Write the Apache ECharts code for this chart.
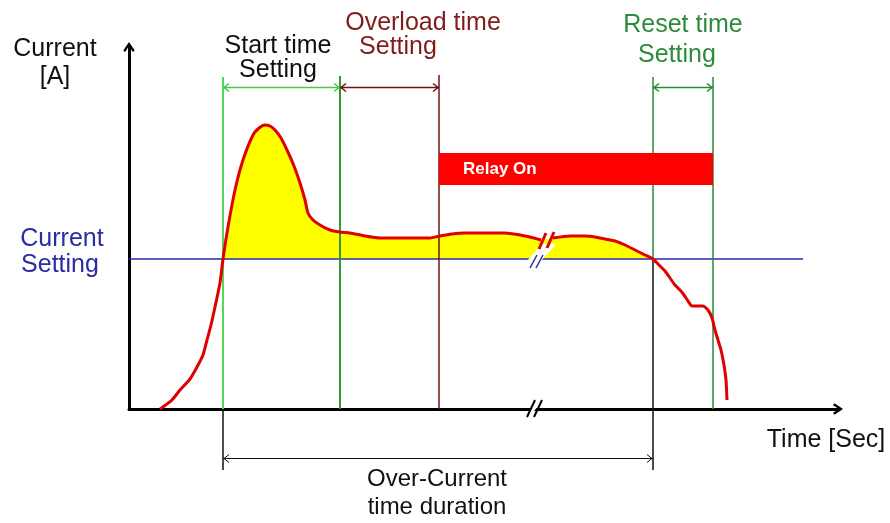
<!DOCTYPE html>
<html><head><meta charset="utf-8">
<script src="https://cdn.jsdelivr.net/npm/echarts@6/dist/echarts.min.js"></script>
<style>html,body{margin:0;padding:0;background:#fff}#c{width:890px;height:523px}</style>
</head><body><div id="c"></div>
<script>
// ---- data (x: time units, y: current units) ----
const currentSetting = 150;
const tStart = 94, tStartEnd = 211, tOverloadEnd = 310, tDrop = 524, tResetEnd = 584;
const settingEnd = 674;
const curveBefore = [[31,0],[34,2],[43,9],[51,19],[61,30],[68,42],[74,54],[78,69],[82,84],[86,102],[91,126],[94,150],[99,182],[106,219],[114,249],[124,274],[130,281],[136,284],[141,283],[146,279],[152,271],[158,259],[165,243],[171,226],[176,209],[179,196],[184,189],[191,184],[201,179],[211,177],[221,176],[236,173],[251,171],[271,171],[301,171],[311,173],[323,175],[336,176],[356,176],[376,176],[391,174],[401,172],[412,169]];
const curveAfter = [[424,171],[441,173],[456,173],[466,172],[476,170],[486,168],[496,164],[506,159],[516,154],[524,150],[531,143],[536,138],[541,131],[546,124],[551,119],[555,114],[559,108],[563,103],[569,103],[574,103],[579,99],[583,91],[586,79],[589,69],[592,59],[595,44],[597,29],[598,9]];
const relayOn = [[tOverloadEnd, tResetEnd, 224, 256]];
const xMax = 709, yMax = 362;

// ---- helpers ----
const FONT = "'Liberation Sans', Arial, sans-serif";
function segSeries(segs, color, width, z) {
  return {type:'custom', coordinateSystem:'cartesian2d', clip:false, silent:true, z:z||5,
    encode:{x:[0,2], y:[1,3]}, data:segs,
    renderItem:(p, api) => {
      const a = api.coord([api.value(0), api.value(1)]);
      const b = api.coord([api.value(2), api.value(3)]);
      return {type:'line', shape:{x1:a[0],y1:a[1],x2:b[0],y2:b[1]}, style:{stroke:color, lineWidth:width}};
    }};
}
function polySeries(polys, color, z) {
  return {type:'custom', coordinateSystem:'cartesian2d', clip:false, silent:true, z:z||5,
    encode:{x:0,y:1}, data:polys.map((p,i)=>[p[0][0],p[0][1],i]),
    renderItem:(p, api) => {
      const pts = polys[api.value(2)].map(q => api.coord(q));
      return {type:'polygon', shape:{points:pts}, style:{fill:color}};
    }};
}
function dimSeries(dims, color, width) {
  return {type:'custom', coordinateSystem:'cartesian2d', clip:false, silent:true, z:6,
    encode:{x:[0,1], y:2}, data:dims,
    renderItem:(p, api) => {
      const a = api.coord([api.value(0), api.value(2)]);
      const b = api.coord([api.value(1), api.value(2)]);
      const y = Math.round(a[1]) + 0.5;
      const s = {stroke:color, lineWidth:width, fill:null};
      return {type:'group', children:[
        {type:'line', shape:{x1:a[0],y1:y,x2:b[0],y2:y}, style:s},
        {type:'polyline', shape:{points:[[a[0]+6,y-4],[a[0]+1,y],[a[0]+6,y+4]]}, style:s},
        {type:'polyline', shape:{points:[[b[0]-6,y-4],[b[0]-1,y],[b[0]-6,y+4]]}, style:s}
      ]};
    }};
}
const fillData = curveBefore.concat(curveAfter).filter(d => d[0] >= tStart && d[0] <= tDrop);
const arrowPath = 'path://M0,9 L6,0 L12,9 L10,10.5 L6,4 L2,10.5 Z';

function txt(text, x, y, color, size) {
  return {type:'text', x:x, y:y, z:100, style:{text:text, fill:color, font:(size||25)+'px '+FONT, align:'center', verticalAlign:'middle'}};
}

const chart = echarts.init(document.getElementById('c'));
chart.setOption({
  animation:false,
  backgroundColor:'#fff',
  grid:{left:129, right:890-129-xMax, top:523-114-yMax, bottom:114},
  xAxis:{type:'value', min:0, max:xMax, axisTick:{show:false}, axisLabel:{show:false}, splitLine:{show:false},
    axisLine:{show:true, onZero:true, symbol:['none', arrowPath], symbolSize:[12,10], lineStyle:{color:'#000', width:3}}},
  yAxis:{type:'value', min:0, max:yMax, axisTick:{show:false}, axisLabel:{show:false}, splitLine:{show:false},
    axisLine:{show:true, onZero:true, symbol:['none', arrowPath], symbolSize:[12,10], lineStyle:{color:'#000', width:3}}},
  series:[
    {type:'line', data:fillData, symbol:'none', silent:true, z:1, lineStyle:{width:0},
      areaStyle:{color:'#ffff00', opacity:1, origin:currentSetting}},
    {type:'line', data:[[0,currentSetting],[settingEnd,currentSetting]], symbol:'none', silent:true, z:2,
      lineStyle:{color:'#2a2aa8', width:1.5}},
    // vertical setting lines
    segSeries([[tStart,332,tStart,0]], '#55d855', 2, 3),
    segSeries([[tStart,0,tStart,-61],[tDrop,currentSetting,tDrop,-61]], '#111', 1.5, 3),
    segSeries([[tStartEnd,333,tStartEnd,0]], '#2f9a2f', 2, 3),
    segSeries([[tOverloadEnd,334,tOverloadEnd,0]], '#6e1414', 1.5, 3),
    segSeries([[tDrop,332,tDrop,currentSetting],[tResetEnd,332,tResetEnd,0]], '#2a8a3a', 1.5, 3),
    // relay on bar
    {type:'custom', coordinateSystem:'cartesian2d', silent:true, z:4, encode:{x:[0,1], y:[2,3]}, data:relayOn,
      renderItem:(p, api) => {
        const a = api.coord([api.value(0), api.value(3)]);
        const b = api.coord([api.value(1), api.value(2)]);
        return {type:'group', children:[
          {type:'rect', shape:{x:a[0], y:a[1], width:b[0]-a[0], height:b[1]-a[1]}, style:{fill:'#ff0000'}},
          {type:'text', x:a[0]+24, y:(a[1]+b[1])/2, style:{text:'Relay On', fill:'#fff', font:'bold 17px '+FONT, align:'left', verticalAlign:'middle'}}
        ]};
      }},
    // current curve
    {type:'line', data:curveBefore, symbol:'none', silent:true, z:7, clip:false, smooth:0.2,
      lineStyle:{color:'#e00000', width:3}},
    {type:'line', data:curveAfter, symbol:'none', silent:true, z:7, clip:false, smooth:0.2,
      lineStyle:{color:'#e00000', width:3}},
    // break marks
    polySeries([[[397,147],[413,165],[427,165],[411,147]], [[400,-3],[407,5],[411,5],[404,-3]]], '#ffffff', 8),
    segSeries([[410,160,417,176],[418,161,425,177]], '#e00000', 3, 9),
    segSeries([[401,141,408,154],[407,141,414,154]], '#2a2aa8', 1.5, 9),
    segSeries([[398,-8,406,9],[405,-8,413,9]], '#000', 2, 9),
    // dimension arrows
    dimSeries([[tStart,tStartEnd,322]], '#44cc44', 1.5),
    dimSeries([[tStartEnd,tOverloadEnd,322]], '#6e1414', 1.5),
    dimSeries([[tDrop,tResetEnd,322]], '#2a8a3a', 1.5),
    dimSeries([[tStart,tDrop,-49]], '#111', 1)
  ],
  graphic:[
    txt('Current', 55, 49, '#111'), txt('[A]', 55, 77, '#111'),
    txt('Start time', 278, 46, '#111'), txt('Setting', 278, 70, '#111'),
    txt('Overload time', 423, 23, '#7f1d1d'), txt('Setting', 398, 47, '#7f1d1d'),
    txt('Reset time', 683, 25, '#2e8b3c'), txt('Setting', 677, 55, '#2e8b3c'),
    txt('Current', 62, 239, '#2b2ba3'), txt('Setting', 60, 265, '#2b2ba3'),
    txt('Time [Sec]', 826, 440, '#111'),
    txt('Over-Current', 437, 479, '#111', 24), txt('time duration', 437, 507, '#111', 24)
  ]
});
</script></body></html>
